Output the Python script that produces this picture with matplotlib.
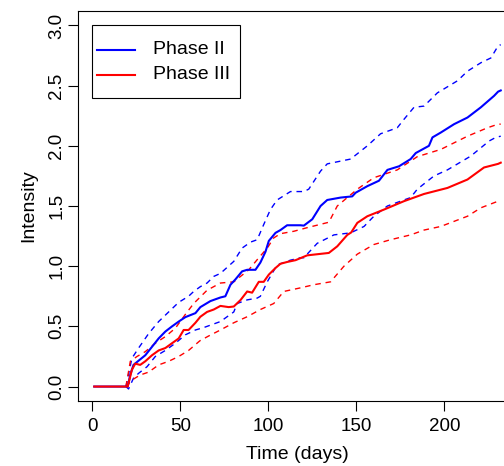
import matplotlib
matplotlib.use("Agg")
import matplotlib.pyplot as plt
from matplotlib.patches import Rectangle

plt.rcParams['font.family'] = ['Liberation Sans', 'DejaVu Sans']

# Phase II (blue): mean curve and dashed bounds
p2_days = [1, 20, 21.5, 23.3, 26.2, 30, 33.8, 37.6, 41.4, 45.2, 49, 52.8, 58.5, 61.3, 67, 72.7,
           75.5, 78.4, 81.2, 85, 87.9, 92.6, 95.4, 98.3, 100.2, 104, 106.8, 110.6, 118.2, 120.1,
           124.9, 129.6, 133.4, 141, 147.6, 149.5, 156.2, 162.8, 167.6, 174.2, 180.8, 183.7,
           191.2, 193.2, 197.9, 205.5, 213.1, 220.7, 228.2, 230.5, 232]
p2_mean = [0, 0, 0.10, 0.18, 0.215, 0.26, 0.33, 0.40, 0.457, 0.50, 0.54, 0.577, 0.61, 0.66, 0.71,
           0.74, 0.75, 0.846, 0.89, 0.957, 0.97, 0.97, 1.03, 1.12, 1.21, 1.277, 1.30, 1.34, 1.34,
           1.337, 1.39, 1.50, 1.55, 1.57, 1.58, 1.61, 1.665, 1.71, 1.80, 1.83, 1.89, 1.94, 2.00,
           2.07, 2.11, 2.18, 2.235, 2.32, 2.415, 2.45, 2.46]

p2_up_days = [19, 22.4, 26.2, 31.9, 37.6, 43.3, 49, 54.6, 57.5, 61.3, 65.1, 68.9, 72.7, 80.3, 85,
              89.8, 93.6, 97.3, 101.1, 104.9, 112.5, 120.1, 122.9, 129.6, 133.4, 146.7, 156.2,
              163.7, 173.2, 177, 182.7, 188.4, 196, 207.4, 213.1, 220.7, 226.4, 230.5, 232]
p2_upper = [0, 0.235, 0.32, 0.44, 0.54, 0.62, 0.70, 0.75, 0.79, 0.83, 0.86, 0.915, 0.94, 1.04,
            1.15, 1.20, 1.22, 1.346, 1.47, 1.55, 1.62, 1.62, 1.64, 1.79, 1.85, 1.89, 2.00, 2.10,
            2.15, 2.22, 2.32, 2.33, 2.44, 2.54, 2.62, 2.69, 2.73, 2.83, 2.84]

p2_lo_days = [19, 20.5, 23.3, 26.2, 31, 35.7, 41.4, 47.1, 52.8, 58.5, 63.2, 72.7, 76.5, 80.3, 82.2,
              87.9, 93.6, 95.4, 99.3, 104.9, 112.5, 118.2, 120.1, 127.7, 137.2, 146.7, 154.3,
              159.9, 167.6, 175.1, 180.8, 184.6, 194.1, 201.7, 215, 225.4, 229.2, 232]
p2_lower = [0, -0.02, 0.07, 0.11, 0.165, 0.25, 0.30, 0.36, 0.43, 0.47, 0.49, 0.54, 0.58, 0.62,
            0.69, 0.72, 0.735, 0.75, 0.87, 1.01, 1.05, 1.07, 1.07, 1.19, 1.26, 1.277, 1.33, 1.415,
            1.50, 1.54, 1.57, 1.64, 1.75, 1.80, 1.915, 2.04, 2.07, 2.08]

# Phase III (red): mean curve and dashed bounds
p3_days = [1, 20, 22.4, 24.3, 27.1, 30, 33.8, 37.6, 41.4, 45.2, 49, 51.8, 54.6, 58.5, 61.3, 65.1,
           68.9, 72.7, 77.4, 80.3, 84.2, 87.9, 90.7, 94.5, 97.3, 100.2, 104, 106.8, 110.6, 115.4,
           122, 134.3, 139.1, 144.8, 147, 150.5, 156.2, 165.6, 177, 188.4, 201.7, 213.1, 222.5,
           230.5, 232]
p3_mean = [0, 0, 0.14, 0.19, 0.18, 0.21, 0.26, 0.30, 0.32, 0.36, 0.40, 0.47, 0.47, 0.53, 0.58,
           0.62, 0.64, 0.67, 0.66, 0.665, 0.72, 0.79, 0.78, 0.87, 0.87, 0.93, 0.985, 1.02, 1.035,
           1.05, 1.09, 1.11, 1.165, 1.26, 1.28, 1.36, 1.415, 1.47, 1.54, 1.60, 1.65, 1.72, 1.82,
           1.85, 1.86]

p3_up_days = [19, 21.5, 25.3, 30, 35.7, 41.4, 47.1, 52.8, 57.5, 65.1, 72.7, 80.3, 88.8, 94.5,
              99.3, 103, 106.8, 114.4, 122, 134.3, 139.1, 150.5, 159.9, 173.2, 184.6, 197.9,
              213.1, 224.5, 230.5, 232]
p3_upper = [0, 0.21, 0.25, 0.29, 0.36, 0.415, 0.485, 0.60, 0.69, 0.80, 0.86, 0.87, 0.97, 1.07,
            1.15, 1.235, 1.27, 1.29, 1.32, 1.365, 1.50, 1.64, 1.735, 1.80, 1.91, 1.97, 2.08, 2.15,
            2.18, 2.18]

p3_lo_days = [19, 22.4, 27.1, 31.9, 37.6, 43.3, 49, 54.6, 61, 66, 72.7, 80.3, 87.9, 95.4, 103,
              108.7, 118.2, 125.8, 135.3, 142.9, 150.5, 159.9, 169.4, 180.8, 188.4, 197.9, 213.1,
              220.7, 230.5, 232]
p3_lower = [0, 0.054, 0.096, 0.12, 0.18, 0.21, 0.25, 0.30, 0.38, 0.42, 0.47, 0.53, 0.58, 0.64,
            0.69, 0.79, 0.82, 0.846, 0.87, 1.00, 1.10, 1.18, 1.22, 1.26, 1.30, 1.33, 1.415, 1.485,
            1.54, 1.54]

x_ticks = [0, 50, 100, 150, 200]
y_ticks = [0.0, 0.5, 1.0, 1.5, 2.0, 2.5, 3.0]
legend_labels = ["Phase II", "Phase III"]
legend_colors = ["blue", "red"]

fig = plt.figure(figsize=(5.04, 4.66), dpi=100)
# plot box runs past the right edge of the picture, like the original crop
ax = fig.add_axes([78 / 504, 65 / 466, 439 / 504, 390 / 466])

dash = (0, (4, 3.5))
ax.plot(p2_up_days, p2_upper, color='blue', lw=1.0, ls=dash)
ax.plot(p2_lo_days, p2_lower, color='blue', lw=1.0, ls=dash)
ax.plot(p3_up_days, p3_upper, color='red', lw=1.0, ls=dash)
ax.plot(p3_lo_days, p3_lower, color='red', lw=1.0, ls=dash)
ax.plot(p2_days, p2_mean, color='blue', lw=1.5)
ax.plot(p3_days, p3_mean, color='red', lw=1.5)

ax.set_xlim(-8.24, 241.24)
ax.set_ylim(-0.12, 3.12)
ax.set_xticks(x_ticks)
ax.set_yticks(y_ticks)
ax.set_xticklabels([str(t) for t in x_ticks])
ax.set_yticklabels(["%.1f" % t for t in y_ticks], rotation=90, va='center')
ax.tick_params(direction='out', length=7, width=0.8, labelsize=13.5, pad=5)
ax.tick_params(axis='y', pad=2)
for s in ax.spines.values():
    s.set_linewidth(0.8)

ax.set_xlabel("Time (days)", fontsize=14, labelpad=8)
ax.set_ylabel("Intensity", fontsize=14, labelpad=8)

# R-style legend box, placed in axes fraction
ax.add_patch(Rectangle((14 / 439, 303 / 390), 148 / 439, 73 / 390, transform=ax.transAxes,
                       facecolor='white', edgecolor='black', lw=0.8, zorder=5))
for i, (lab, col) in enumerate(zip(legend_labels, legend_colors)):
    yy = (351 - 25 * i) / 390
    ax.plot([19 / 439, 57 / 439], [yy, yy], color=col, lw=1.5, transform=ax.transAxes, zorder=6)
    ax.text(75 / 439, yy, lab, fontsize=14, va='center', ha='left',
            transform=ax.transAxes, zorder=6)

fig.savefig("out.png", dpi=100)
